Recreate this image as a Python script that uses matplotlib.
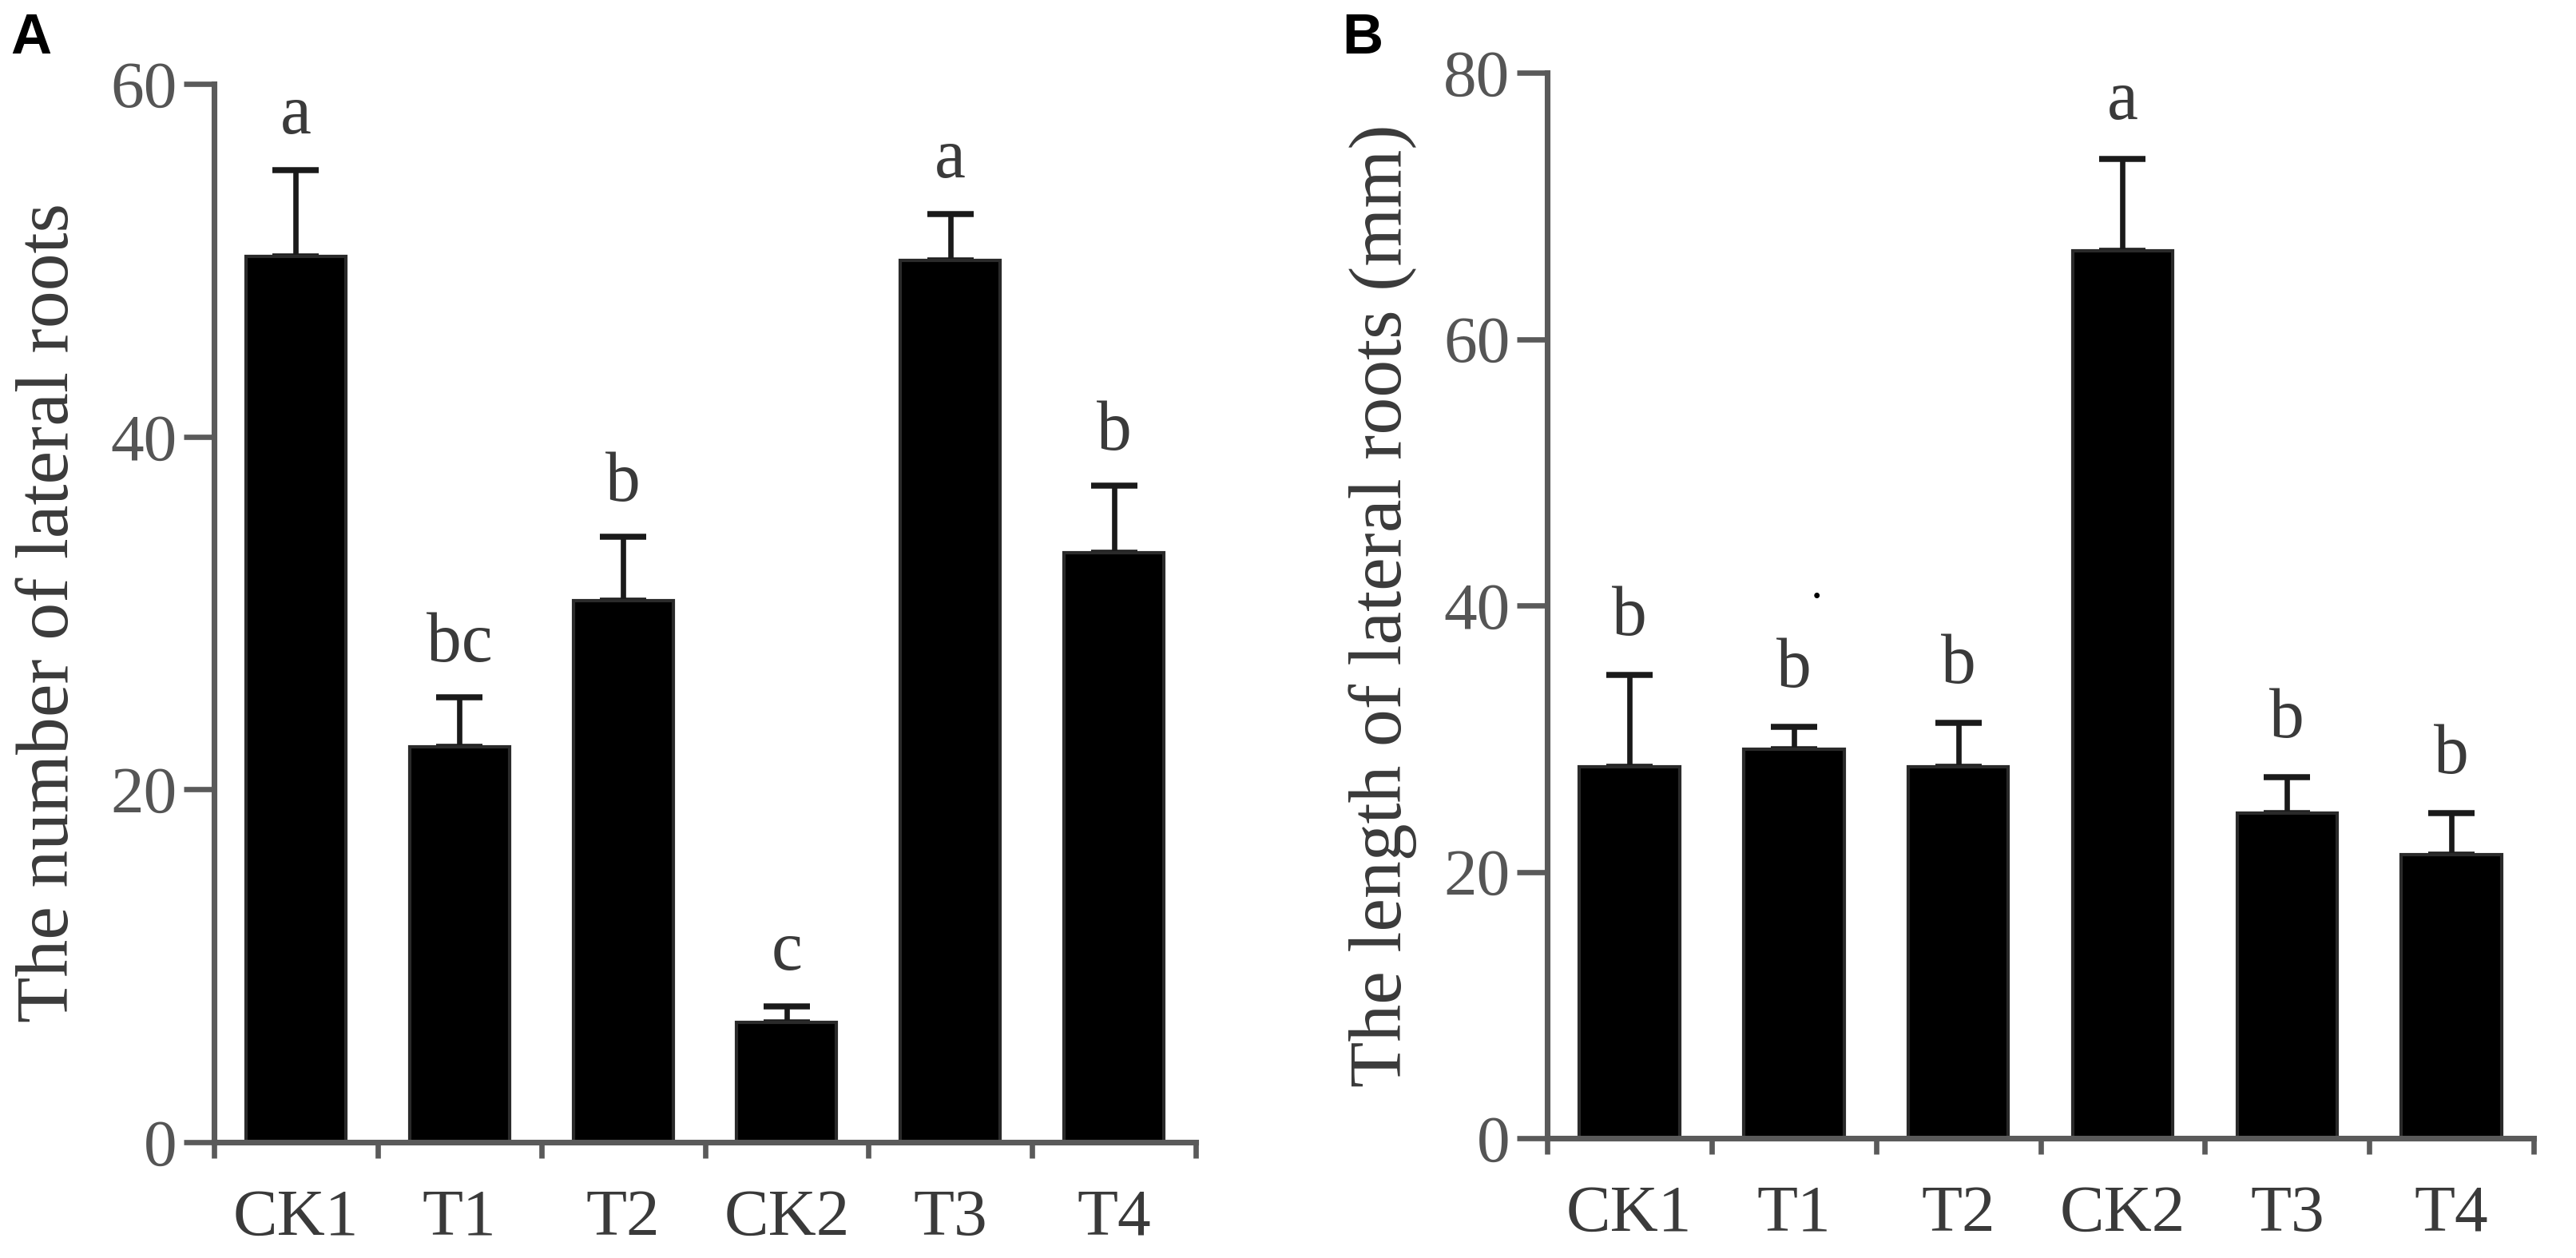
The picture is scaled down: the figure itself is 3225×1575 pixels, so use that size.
import numpy as np
from matplotlib import pyplot as plt

# data (mean, upper error, letters from the stats test)
groups = ["CK1", "T1", "T2", "CK2", "T3", "T4"]

num_mean = [50.2, 22.4, 30.7, 6.8, 50.0, 33.4]
num_err = [4.9, 2.8, 3.6, 0.9, 2.6, 3.8]
num_letters = ["a", "bc", "b", "c", "a", "b"]

len_mean = [27.9, 29.2, 27.9, 66.6, 24.4, 21.3]
len_err = [6.9, 1.7, 3.3, 6.9, 2.7, 3.1]
len_letters = ["b", "b", "b", "a", "b", "b"]

plt.rcParams['font.family'] = ['Liberation Serif', 'DejaVu Serif']
axis_col = "#5a5a5a"
text_col = "#3a3a3a"

fig = plt.figure(figsize=(10.75, 5.25), dpi=300)


def draw_panel(rect, means, errs, letters, ymax, ylabel, letter_pad):
    ax = fig.add_axes(rect)
    x = np.arange(len(groups))
    ax.bar(x, means, width=0.61, color="black", edgecolor="#2a2a2a", linewidth=1.0, zorder=2)
    ax.errorbar(x, means, yerr=[np.zeros(len(errs)), errs], fmt="none",
                ecolor="#1a1a1a", elinewidth=1.6, capsize=7, capthick=1.8, zorder=1)
    for xi, m, e, lab in zip(x, means, errs, letters):
        ax.annotate(lab, xy=(xi, m + e), xytext=(0, letter_pad), textcoords="offset points",
                    ha="center", va="baseline", fontsize=21, color=text_col)

    ax.set_xlim(-0.5, len(groups) - 0.5)
    ax.set_ylim(0, ymax)
    ax.set_yticks(np.arange(0, ymax + 1, 20))
    ax.set_xticks(x)
    ax.set_xticklabels(groups)
    ax.set_xticks(np.arange(-0.5, len(groups), 1), minor=True)
    ax.tick_params(axis="x", which="major", length=0, pad=14, labelsize=20, labelcolor=text_col)
    ax.tick_params(axis="x", which="minor", length=4.8, width=1.6, color=axis_col, direction="out")
    ax.tick_params(axis="y", length=9.2, width=1.6, color=axis_col, pad=2,
                   labelsize=20, labelcolor="#555555")
    for side in ["top", "right"]:
        ax.spines[side].set_visible(False)
    for side in ["left", "bottom"]:
        ax.spines[side].set_color(axis_col)
        ax.spines[side].set_linewidth(1.7)
    ax.set_ylabel(ylabel, fontsize=22.5, color=text_col, labelpad=8)
    return ax


ax1 = draw_panel([0.0831, 0.0921, 0.3811, 0.8413], num_mean, num_err, num_letters,
                 60, "The number of lateral roots", 11)
ax2 = draw_panel([0.6006, 0.0952, 0.3830, 0.8470], len_mean, len_err, len_letters,
                 80, "The length of lateral roots (mm)", 12)

# small speck next to the T1 letter in panel B, as in the source figure
ax2.annotate("\u00b7", xy=(1, len_mean[1] + len_err[1]), xytext=(7, 38),
             textcoords="offset points", ha="center", va="center", fontsize=14, color="black")

fig.text(0.004, 0.99, "A", fontsize=17, fontweight="bold", family="Liberation Sans", va="top")
fig.text(0.521, 0.99, "B", fontsize=17, fontweight="bold", family="Liberation Sans", va="top")

plt.savefig("out.png", dpi=300)
